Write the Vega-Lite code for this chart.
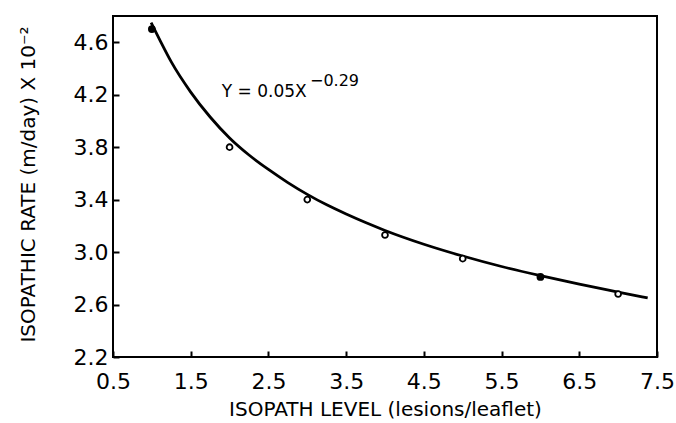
{
  "$schema": "https://vega.github.io/schema/vega-lite/v6.json",
  "width": 544,
  "height": 341,
  "autosize": {"type": "none"},
  "padding": {"left": 113, "top": 16, "right": 19, "bottom": 66},
  "background": "white",
  "config": {
    "view": {"stroke": "black", "strokeWidth": 2},
    "font": "DejaVu Sans",
    "axis": {
      "grid": false,
      "domain": false,
      "tickColor": "black",
      "tickWidth": 2,
      "tickSize": -6,
      "labelColor": "black",
      "labelFont": "DejaVu Sans",
      "labelFontSize": 22,
      "titleFont": "DejaVu Sans",
      "titleFontSize": 20,
      "titleFontWeight": "normal",
      "titleColor": "black"
    }
  },
  "datasets": {
    "observed": [
      {"level": 1, "rate": 4.70},
      {"level": 2, "rate": 3.80},
      {"level": 3, "rate": 3.40},
      {"level": 4, "rate": 3.13},
      {"level": 5, "rate": 2.95},
      {"level": 6, "rate": 2.81},
      {"level": 7, "rate": 2.68}
    ],
    "fitted": [
      {"level": 0.99, "rate": 4.75},
      {"level": 1.1, "rate": 4.62},
      {"level": 1.25, "rate": 4.45},
      {"level": 1.5, "rate": 4.22},
      {"level": 1.75, "rate": 4.03},
      {"level": 2.0, "rate": 3.87},
      {"level": 2.25, "rate": 3.74},
      {"level": 2.5, "rate": 3.63},
      {"level": 2.75, "rate": 3.53},
      {"level": 3.0, "rate": 3.44},
      {"level": 3.25, "rate": 3.36},
      {"level": 3.5, "rate": 3.29},
      {"level": 3.75, "rate": 3.225},
      {"level": 4.0, "rate": 3.165},
      {"level": 4.5, "rate": 3.06},
      {"level": 5.0, "rate": 2.97},
      {"level": 5.5, "rate": 2.89},
      {"level": 6.0, "rate": 2.82},
      {"level": 6.5, "rate": 2.755},
      {"level": 7.0, "rate": 2.695},
      {"level": 7.38, "rate": 2.65}
    ],
    "equation": [
      {"level": 1.9, "rate": 4.185, "text": "Y = 0.05X", "part": "base"},
      {"level": 3.035, "rate": 4.27, "text": "−0.29", "part": "exponent"}
    ]
  },
  "encoding": {
    "x": {
      "field": "level",
      "type": "quantitative",
      "scale": {"domain": [0.5, 7.5], "nice": false, "zero": false},
      "axis": {
        "title": "ISOPATH LEVEL (lesions/leaflet)",
        "values": [0.5, 1.5, 2.5, 3.5, 4.5, 5.5, 6.5, 7.5],
        "format": ".1f",
        "labelPadding": 20,
        "labelFlush": false,
        "titlePadding": 7
      }
    },
    "y": {
      "field": "rate",
      "type": "quantitative",
      "scale": {"domain": [2.2, 4.8], "nice": false, "zero": false},
      "axis": {
        "title": "ISOPATHIC RATE (m/day) X 10⁻²",
        "values": [2.2, 2.6, 3.0, 3.4, 3.8, 4.2, 4.6],
        "format": ".1f",
        "labelPadding": 11,
        "labelFlush": false,
        "titleX": -85,
        "titleY": 168,
        "titleAngle": -90,
        "titleAlign": "center",
        "titleBaseline": "middle"
      }
    }
  },
  "layer": [
    {
      "data": {"name": "fitted"},
      "mark": {"type": "line", "color": "black", "strokeWidth": 2.8, "interpolate": "monotone"}
    },
    {
      "data": {"name": "observed"},
      "transform": [{"filter": {"not": {"field": "level", "oneOf": [1, 6]}}}],
      "mark": {"type": "point", "shape": "circle", "filled": false, "color": "black", "fill": "white", "fillOpacity": 1, "strokeWidth": 1.8, "size": 34}
    },
    {
      "data": {"name": "observed"},
      "transform": [{"filter": {"field": "level", "oneOf": [1, 6]}}],
      "mark": {"type": "point", "shape": "circle", "filled": true, "color": "black", "opacity": 1, "size": 60}
    },
    {
      "data": {"name": "equation"},
      "transform": [{"filter": "datum.part === 'base'"}],
      "mark": {"type": "text", "align": "left", "baseline": "alphabetic", "fontSize": 17, "color": "black"},
      "encoding": {"text": {"field": "text"}}
    },
    {
      "data": {"name": "equation"},
      "transform": [{"filter": "datum.part === 'exponent'"}],
      "mark": {"type": "text", "align": "left", "baseline": "alphabetic", "fontSize": 16, "color": "black"},
      "encoding": {"text": {"field": "text"}}
    }
  ]
}
